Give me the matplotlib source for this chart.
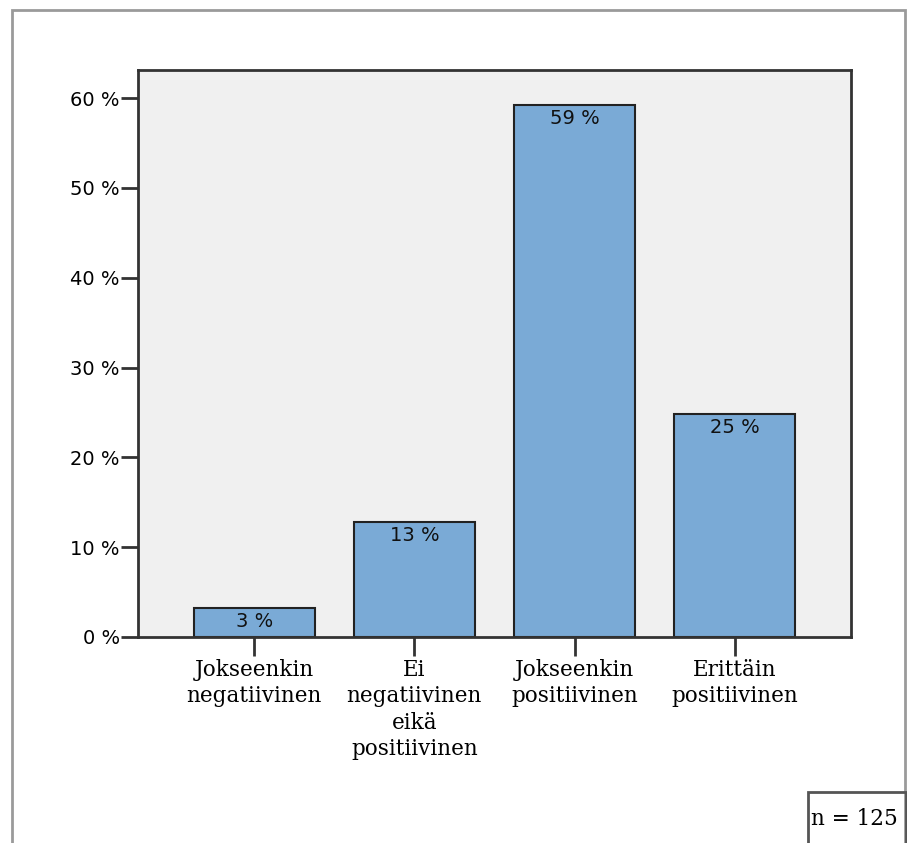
import matplotlib.pyplot as plt
from matplotlib.patches import Rectangle

# Survey answer shares (n = 125)
categories = [
    "Jokseenkin\nnegatiivinen",
    "Ei\nnegatiivinen\neikä\npositiivinen",
    "Jokseenkin\npositiivinen",
    "Erittäin\npositiivinen",
]
shares = [3.2, 12.8, 59.2, 24.8]
bar_labels = ["3 %", "13 %", "59 %", "25 %"]
y_ticks = [0, 10, 20, 30, 40, 50, 60]
n_text = "n = 125"

W, H = 907, 843
fig = plt.figure(figsize=(W / 100, H / 100), dpi=100)
fig.patch.set_facecolor("white")

# gray frame around the whole chart (bottom edge runs off the image)
fig.add_artist(Rectangle((12 / W, -0.05), (905 - 12) / W, 1.05 - 10 / H,
                         transform=fig.transFigure, fill=False,
                         edgecolor="#9a9a9a", linewidth=2))

ax = fig.add_axes([138 / W, 1 - 637 / H, (851 - 138) / W, (637 - 70) / H])
ax.set_facecolor("#f0f0f0")

x = list(range(len(categories)))
bars = ax.bar(x, shares, width=0.755, color="#7aaad6",
              edgecolor="#222222", linewidth=1.5, zorder=2)

for bar, lab in zip(bars, bar_labels):
    ax.annotate(lab, (bar.get_x() + bar.get_width() / 2, bar.get_height()),
                xytext=(0, -3), textcoords="offset points",
                ha="center", va="top", fontsize=14,
                family="DejaVu Sans", color="#111111", zorder=3)

ax.set_xlim(-0.725, 3.725)
ax.set_ylim(0, 63.12)
ax.set_yticks(y_ticks)
ax.set_yticklabels([f"{t} %" for t in y_ticks], fontsize=14, family="DejaVu Sans")
ax.set_xticks(x)
ax.set_xticklabels(categories, fontsize=15.5, family="DejaVu Serif",
                   linespacing=1.25)

for s in ax.spines.values():
    s.set_color("#333333")
    s.set_linewidth(2)

ax.tick_params(axis="y", direction="out", length=12, width=2,
               color="#333333", pad=1)
ax.tick_params(axis="x", direction="out", length=14, width=2,
               color="#333333", pad=2)

# sample size box in the lower right corner
fig.text(811 / W, 1 - 819 / H, n_text, fontsize=15.5, family="DejaVu Serif",
         ha="left", va="center")
fig.add_artist(Rectangle((808 / W, -0.05), (906 - 808) / W, 0.05 + 1 - 792 / H,
                         transform=fig.transFigure, fill=False,
                         edgecolor="#555555", linewidth=2))

fig.savefig("out.png", dpi=100)
